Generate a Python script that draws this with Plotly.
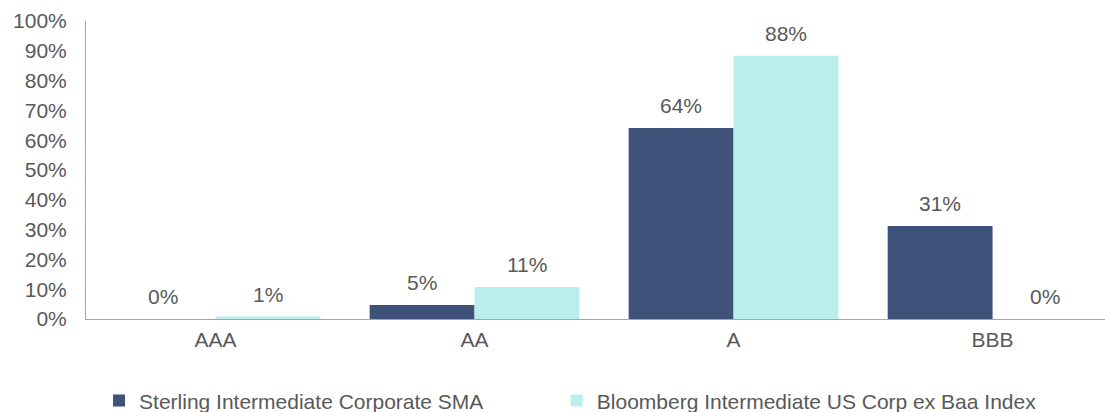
import plotly.graph_objects as go

categories = ["AAA", "AA", "A", "BBB"]
sterling = [0.0, 4.7, 64.1, 31.2]
bloomberg = [0.8, 10.7, 88.3, 0.0]
series_names = ["Sterling Intermediate Corporate SMA", "Bloomberg Intermediate US Corp ex Baa Index"]
colors = ["#3F537A", "#BAEDED"]
tick_vals = list(range(0, 101, 10))
tick_text = [f"{v}%" for v in tick_vals]

FONT = "Liberation Sans, Arial, sans-serif"
TXT = "#595959"
FS = 21
BARGAP = 0.19

fig = go.Figure()
for name, vals, col, lg in zip(series_names, [sterling, bloomberg], colors, ["legend", "legend2"]):
    fig.add_trace(go.Bar(x=categories, y=vals, name=name, legend=lg,
                         marker=dict(color=col, line=dict(width=0))))

# data labels above bars, placed in data coordinates
bw = (1 - BARGAP) / 2
for k, vals in enumerate([sterling, bloomberg]):
    off = (k - 0.5) * bw
    for i, v in enumerate(vals):
        fig.add_annotation(x=i + off, y=v, xref="x", yref="y", text=f"{v:.0f}%",
                           showarrow=False, yanchor="bottom", yshift=9,
                           font=dict(size=FS, color=TXT, family=FONT))

leg_common = dict(orientation="h", xanchor="left", y=0.027, yanchor="middle",
                  yref="container", font=dict(size=FS, color=TXT), itemwidth=30,
                  bgcolor="rgba(0,0,0,0)")

fig.update_layout(
    width=1105, height=412,
    margin=dict(l=86, r=0, t=21, b=93, autoexpand=False),
    paper_bgcolor="white", plot_bgcolor="white",
    barmode="group", bargap=BARGAP, bargroupgap=0,
    font=dict(family=FONT, size=FS, color=TXT),
    showlegend=True,
    legend=dict(x=0.0128, **leg_common),
    legend2=dict(x=0.462, **leg_common),
    xaxis=dict(range=[-0.5, 3.434], showline=True, linecolor="#A6A6A6", linewidth=1, ticks="",
               tickfont=dict(size=FS, color=TXT), ticklabelstandoff=2),
    yaxis=dict(range=[0, 100], tickvals=tick_vals, ticktext=tick_text, showgrid=False,
               showline=True, linecolor="#A6A6A6", linewidth=1, ticks="",
               zeroline=False, tickfont=dict(size=FS, color=TXT), ticklabelstandoff=14),
)
fig.write_html("out.html", config={"displayModeBar": False},
               post_script="document.body.style.margin='0';document.body.style.overflow='hidden';")
